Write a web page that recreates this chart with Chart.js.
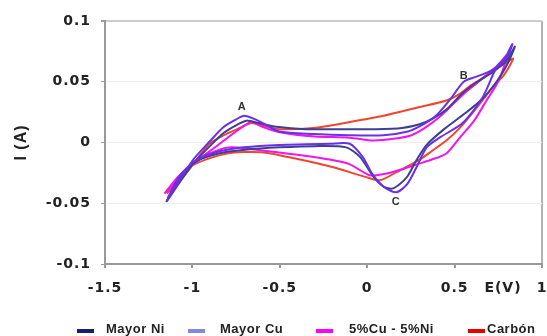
<!DOCTYPE html>
<html>
<head>
<meta charset="utf-8">
<script src="https://cdn.jsdelivr.net/npm/chart.js@4.4.0/dist/chart.umd.min.js"></script>
<style>
html, body { margin: 0; padding: 0; background: #fff; }
#wrap { width: 547px; height: 336px; }
</style>
</head>
<body>
<div id="wrap"><canvas id="cv" width="547" height="336"></canvas></div>
<script>
// Series names (legend order)
const seriesNames = ['Mayor Ni', 'Mayor Cu', '5%Cu - 5%Ni', 'Carbón'];

const niE = [-1.15, -1.0, -0.9, -0.82, -0.74, -0.69, -0.62, -0.52, -0.35, -0.15,
  0.05, 0.2, 0.3, 0.38, 0.46, 0.54, 0.63, 0.72, 0.8, 0.845,
  0.8, 0.74, 0.66, 0.56, 0.44, 0.34, 0.28, 0.23, 0.18, 0.14,
  0.09, 0.03, -0.04, -0.12, -0.3, -0.5, -0.7, -0.85, -0.97, -1.07, -1.15];
const niI = [-0.049, -0.018, -0.003, 0.008, 0.015, 0.018, 0.016, 0.013, 0.011, 0.011,
  0.011, 0.012, 0.015, 0.02, 0.028, 0.04, 0.05, 0.058, 0.068, 0.079,
  0.064, 0.05, 0.036, 0.024, 0.011, -0.002, -0.015, -0.028, -0.035, -0.038,
  -0.036, -0.027, -0.012, -0.004, -0.003, -0.004, -0.006, -0.009, -0.015, -0.028, -0.049];

// Mayor Cu
const cuE = [-1.146, -1.0, -0.9, -0.823, -0.75, -0.704, -0.64, -0.584, -0.504, -0.305,
  -0.106, 0.094, 0.233, 0.31, 0.393, 0.472, 0.552, 0.62, 0.692, 0.76, 0.811, 0.83,
  0.79, 0.74, 0.66, 0.546, 0.414, 0.34, 0.28, 0.23, 0.168, 0.1,
  0.03, -0.025, -0.1, -0.21, -0.504, -0.704, -0.863, -0.983, -1.07, -1.142];
const cuI = [-0.048, -0.015, 0.001, 0.0126, 0.019, 0.022, 0.019, 0.015, 0.009, 0.007,
  0.006, 0.006, 0.009, 0.014, 0.022, 0.035, 0.05, 0.054, 0.058, 0.064, 0.073, 0.081,
  0.07, 0.062, 0.037, 0.016, 0.004, -0.004, -0.021, -0.034, -0.041, -0.037,
  -0.026, -0.012, -0.001, -0.001, -0.002, -0.004, -0.008, -0.015, -0.027, -0.046];

// 5%Cu - 5%Ni
const mixE = [-1.16, -1.0, -0.88, -0.78, -0.7, -0.664, -0.6, -0.5, -0.3, -0.1,
  0.034, 0.15, 0.253, 0.33, 0.413, 0.48, 0.552, 0.62, 0.692, 0.75, 0.801,
  0.752, 0.68, 0.612, 0.53, 0.453, 0.37, 0.293, 0.2, 0.094, 0.014,
  -0.106, -0.305, -0.604, -0.78, -0.9, -1.0, -1.08, -1.16];
const mixI = [-0.042, -0.018, -0.005, 0.006, 0.014, 0.017, 0.013, 0.0085, 0.005, 0.004,
  0.0016, 0.003, 0.006, 0.012, 0.021, 0.03, 0.04, 0.048, 0.0565, 0.064, 0.072,
  0.051, 0.034, 0.018, 0.004, -0.009, -0.014, -0.0176, -0.022, -0.026, -0.027,
  -0.0176, -0.012, -0.0066, -0.004, -0.009, -0.018, -0.028, -0.042];

// Carbón
const cE = [-1.146, -1.05, -0.97, -0.903, -0.82, -0.744, -0.664, -0.6, -0.504, -0.305,
  -0.106, 0.094, 0.293, 0.453, 0.53, 0.592, 0.66, 0.732, 0.79, 0.835,
  0.78, 0.732, 0.612, 0.53, 0.453, 0.37, 0.293, 0.173, 0.074, -0.006,
  -0.205, -0.405, -0.604, -0.803, -0.983, -1.07, -1.146];
const cI = [-0.042, -0.028, -0.013, -0.001, 0.006, 0.011, 0.016, 0.014, 0.011, 0.012,
  0.0167, 0.022, 0.029, 0.0346, 0.04, 0.047, 0.053, 0.0606, 0.065, 0.069,
  0.055, 0.048, 0.026, 0.012, 0.0016, -0.007, -0.0148, -0.024, -0.031, -0.0285,
  -0.020, -0.0134, -0.008, -0.009, -0.0176, -0.027, -0.042];

// Peak labels
const peakNames = ['A', 'B', 'C'];
const peakE = [-0.718, 0.552, 0.163];
const peakI = [0.029, 0.055, -0.049];

// Axis ranges
const xMin = -1.5, xMax = 1, xStep = 0.5;
const yMin = -0.1, yMax = 0.1, yStep = 0.05;

const lineColors = ['#3b3f95', '#6b30e6', '#f014f0', '#f0452f'];
const legendColors = ['#1c1c6e', '#8585e8', '#ff00ff', '#e80000'];

function zip(xs, ys) {
    return xs.map((x, i) => ({ x: x, y: ys[i] }));
}

const allE = [niE, cuE, mixE, cE];
const allI = [niI, cuI, mixI, cI];
const drawOrder = [1, 0, 2, 3];

const tickFont = { family: 'DejaVu Sans', size: 14, weight: 'bold' };

// letter spacing to mimic the stretched look of the original
const spacingPlugin = {
    id: 'spacing',
    beforeUpdate(chart) { chart.ctx.letterSpacing = '1px'; },
    beforeDraw(chart) {
        chart.ctx.letterSpacing = '1px';
    }
};

const extrasPlugin = {
    id: 'extras',
    afterDatasetsDraw(chart) {
        const ctx = chart.ctx;
        const xs = chart.scales.x, ys = chart.scales.y;
        ctx.save();
        ctx.letterSpacing = '0px';
        ctx.fillStyle = '#333';
        ctx.font = 'bold 11px "Liberation Sans", Arial';
        ctx.textAlign = 'center';
        ctx.textBaseline = 'middle';
        peakNames.forEach((n, i) => {
            ctx.fillText(n, xs.getPixelForValue(peakE[i]), ys.getPixelForValue(peakI[i]));
        });
        ctx.restore();
    },
    afterDraw(chart) {
        const ctx = chart.ctx;
        ctx.save();
        // E(V) label between 0.5 and 1
        ctx.letterSpacing = '1px';
        ctx.fillStyle = '#222';
        ctx.font = 'bold 14px "DejaVu Sans"';
        ctx.textAlign = 'center';
        ctx.textBaseline = 'alphabetic';
        ctx.fillText('E(V)', 503, 292);

        // legend
        ctx.letterSpacing = '0.5px';
        ctx.font = 'bold 13px "Liberation Sans", Arial';
        ctx.textAlign = 'left';
        const swX = [77, 188, 316, 468];
        const txX = [106, 220, 349, 487];
        seriesNames.forEach((n, i) => {
            ctx.fillStyle = legendColors[i];
            ctx.fillRect(swX[i], 329, 17, 4);
            ctx.fillStyle = '#222';
            ctx.fillText(n, txX[i], 333);
        });
        ctx.restore();
    }
};

document.addEventListener('DOMContentLoaded', function() {
    const ctx = document.getElementById('cv').getContext('2d');
    new Chart(ctx, {
        type: 'scatter',
        data: {
            datasets: seriesNames.map((name, i) => ({
                label: name,
                data: zip(allE[i], allI[i]),
                showLine: true,
                borderColor: lineColors[i],
                backgroundColor: lineColors[i],
                borderWidth: 2,
                pointRadius: 0,
                tension: 0.25,
                order: drawOrder[i]
            }))
        },
        options: {
            responsive: false,
            animation: false,
            devicePixelRatio: 1,
            layout: { padding: { left: 0, right: 5, top: 21, bottom: 0 } },
            plugins: {
                legend: { display: false },
                tooltip: { enabled: false }
            },
            scales: {
                x: {
                    type: 'linear',
                    min: xMin,
                    max: xMax,
                    afterFit: function(scale) {
                        scale.height = 72;
                        scale.paddingLeft = 0;
                        scale.paddingRight = 0;
                    },
                    ticks: {
                        stepSize: xStep,
                        font: tickFont,
                        color: '#222',
                        padding: 12,
                        maxRotation: 0,
                        callback: v => String(+v.toFixed(2))
                    },
                    grid: {
                        color: c => (c.tick && c.tick.value === xMax) ? '#b4b4b4' : 'rgba(0,0,0,0)',
                        lineWidth: 2,
                        tickColor: '#999',
                        tickLength: 4
                    },
                    border: { color: '#999', width: 2 }
                },
                y: {
                    min: yMin,
                    max: yMax,
                    afterFit: function(scale) { scale.width = 105; },
                    ticks: {
                        stepSize: yStep,
                        font: tickFont,
                        color: '#222',
                        padding: 10,
                        callback: v => String(+v.toFixed(2))
                    },
                    grid: {
                        color: c => (c.tick && c.tick.value === yMax) ? '#cccccc' : '#eeeeee',
                        lineWidth: c => (c.tick && c.tick.value === yMax) ? 2 : 1,
                        tickColor: '#999',
                        tickLength: 4
                    },
                    border: { color: '#999', width: 2 },
                    title: {
                        display: true,
                        text: 'I (A)',
                        color: '#222',
                        font: { family: 'Liberation Sans', size: 16, weight: 'bold' },
                        padding: { top: 12, bottom: 0 }
                    }
                }
            }
        },
        plugins: [spacingPlugin, extrasPlugin]
    });
});
</script>
</body>
</html>
